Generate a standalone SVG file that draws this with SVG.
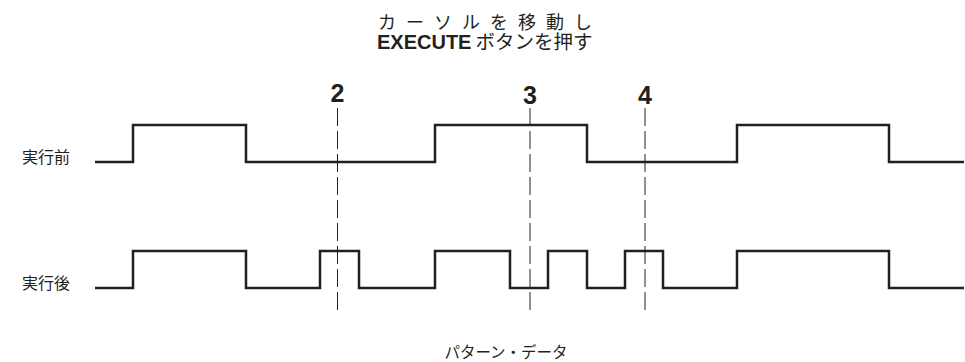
<svg xmlns="http://www.w3.org/2000/svg" width="965" height="362" viewBox="0 0 965 362">
<style>
  .jp { font-family: "Liberation Sans", "Noto Sans CJK JP", sans-serif; fill: #231f20; }
  .num { font-family: "Liberation Sans Narrow", "Liberation Sans", sans-serif; font-weight: bold; font-size: 25px; fill: #231f20; text-anchor: middle; }
  .wave { fill: none; stroke: #231f20; stroke-width: 2.5; stroke-linejoin: miter; }
  .mark { fill: none; stroke: #231f20; stroke-width: 1; stroke-dasharray: 18 5; }
</style>
<rect width="965" height="362" fill="#ffffff"/>
<g id="title">
  <text class="jp" x="378" y="29" font-size="18" letter-spacing="10">カーソルを移動し</text>
  <text class="jp" x="377" y="49" font-size="19.5"><tspan font-weight="bold" font-size="20">EXECUTE</tspan><tspan dx="4">ボタンを押す</tspan></text>
</g>
<g id="row-before">
  <text class="jp" x="22" y="163" font-size="16">実行前</text>
  <path class="wave" d="M95,162 H133 V125 H246 V162 H435 V125 H587 V162 H737 V125 H889 V162 H964"/>
</g>
<g id="row-after">
  <text class="jp" x="22" y="289" font-size="16">実行後</text>
  <path class="wave" d="M95,288 H133 V251 H246 V288 H320 V251 H359 V288 H435 V251 H510 V288 H548 V251 H587 V288 H625 V251 H663 V288 H737 V251 H889 V288 H964"/>
</g>
<g id="connectors">
  <line class="mark" x1="337.5" y1="108" x2="337.5" y2="314"/>
  <line class="mark" x1="530" y1="108" x2="530" y2="314"/>
  <line class="mark" x1="645" y1="108" x2="645" y2="314"/>
</g>
<g id="marker-2"><text class="num" x="337.5" y="102">2</text></g>
<g id="marker-3"><text class="num" x="530" y="104">3</text></g>
<g id="marker-4"><text class="num" x="645" y="104">4</text></g>
<g id="footer">
  <text class="jp" x="506" y="358" font-size="15.5" text-anchor="middle">パターン・データ</text>
</g>
</svg>
